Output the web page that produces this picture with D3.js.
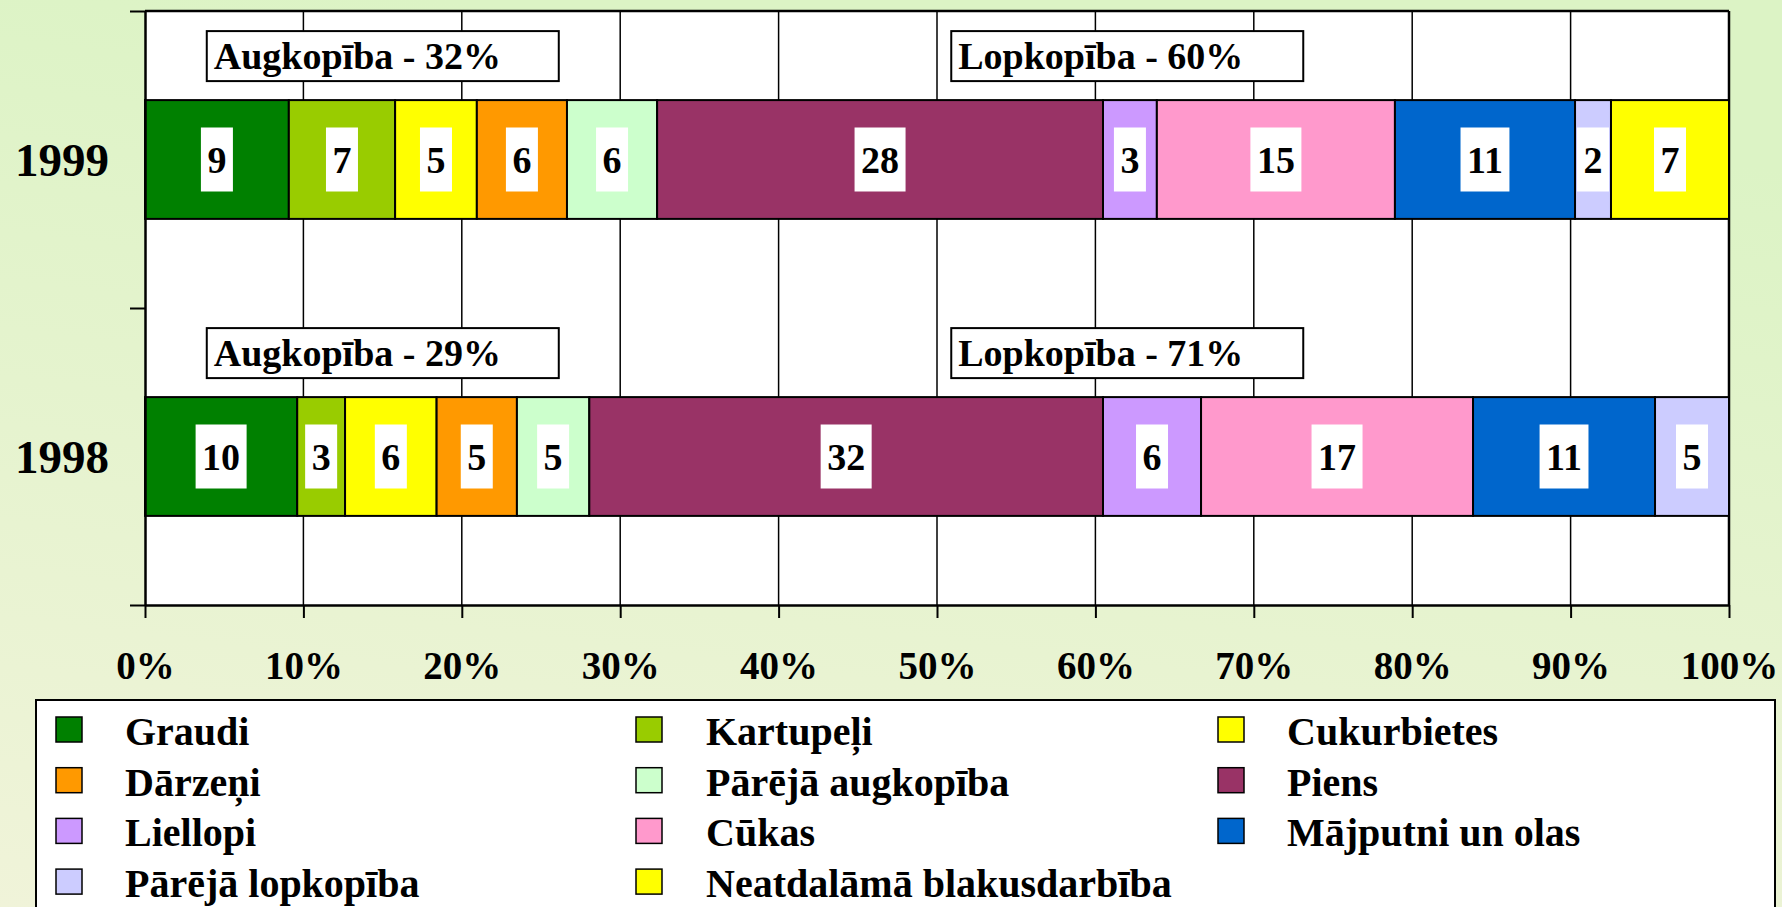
<!DOCTYPE html>
<html>
<head>
<meta charset="utf-8">
<script src="https://cdn.jsdelivr.net/npm/d3@7"></script>
<style>
  body { margin: 0; padding: 0; overflow: hidden; }
  text { font-family: "Times New Roman", "Liberation Serif", serif; font-weight: bold; fill: #000; }
</style>
</head>
<body>
<div id="chart"></div>
<script>
// data: share of output (%) by product group
const years = ["1999", "1998"];
const categories = ["Graudi", "Kartupeļi", "Cukurbietes", "Dārzeņi", "Pārējā augkopība",
  "Piens", "Liellopi", "Cūkas", "Mājputni un olas", "Pārējā lopkopība", "Neatdalāmā blakusdarbība"];
const colors = ["#008000", "#99cc00", "#ffff00", "#ff9900", "#ccffcc",
  "#993366", "#cc99ff", "#ff99cc", "#0066cc", "#ccccff", "#ffff00"];
const values1999 = [9.08, 6.71, 5.16, 5.69, 5.69, 28.15, 3.40, 15.03, 11.37, 2.27, 7.45];
const values1998 = [9.61, 3.02, 5.78, 5.07, 4.57, 32.43, 6.19, 17.17, 11.49, 4.67, 0];
const groupLabels1999 = ["Augkopība - 32%", "Lopkopība - 60%"];
const groupLabels1998 = ["Augkopība - 29%", "Lopkopība - 71%"];
const xTicks = [0, 10, 20, 30, 40, 50, 60, 70, 80, 90, 100];

const width = 1782, height = 907;
const plot = {left: 145, right: 1729, top: 11, bottom: 605};

const svg = d3.select("#chart").append("svg")
  .attr("width", width)
  .attr("height", height);

// background gradient
const grad = svg.append("defs").append("linearGradient")
  .attr("id", "bg")
  .attr("x1", 0).attr("y1", 1).attr("x2", 0.25).attr("y2", 0);
grad.append("stop").attr("offset", "0%").attr("stop-color", "#f0f3d9");
grad.append("stop").attr("offset", "100%").attr("stop-color", "#dcf3c5");
svg.append("rect").attr("width", width).attr("height", height).attr("fill", "url(#bg)");

const x = d3.scaleLinear().domain([0, 100]).range([plot.left, plot.right]);
const y = d3.scaleBand().domain(years).range([plot.top, plot.bottom])
  .paddingInner(0.6).paddingOuter(0.3);

// plot area
svg.append("rect")
  .attr("x", plot.left).attr("y", plot.top)
  .attr("width", plot.right - plot.left).attr("height", plot.bottom - plot.top)
  .attr("fill", "#fff");

// gridlines
svg.append("g").selectAll("line")
  .data(xTicks.slice(1))
  .enter().append("line")
    .attr("x1", d => x(d)).attr("x2", d => x(d))
    .attr("y1", plot.top).attr("y2", plot.bottom)
    .attr("stroke", "#000").attr("stroke-width", d => d == 100 ? 2.5 : 1.5);
svg.append("line")
  .attr("x1", plot.left).attr("x2", plot.right)
  .attr("y1", plot.top).attr("y2", plot.top)
  .attr("stroke", "#000").attr("stroke-width", 2.5);

// stacked bars
const rows = [
  {year: "1999", values: values1999, groups: groupLabels1999},
  {year: "1998", values: values1998, groups: groupLabels1998}
];
const fmt = d3.format(".0f");

rows.forEach(row => {
  let acc = 0;
  const segs = row.values.map((v, i) => {
    const s = {x0: acc, x1: acc + v, v: v, color: colors[i]};
    acc += v;
    return s;
  }).filter(s => s.v > 0);

  const g = svg.append("g");
  g.selectAll("rect.seg")
    .data(segs)
    .enter().append("rect")
      .attr("class", "seg")
      .attr("x", d => x(d.x0))
      .attr("y", y(row.year))
      .attr("width", d => x(d.x1) - x(d.x0))
      .attr("height", y.bandwidth())
      .attr("fill", d => d.color)
      .attr("stroke", "#000")
      .attr("stroke-width", 2);

  const cy = y(row.year) + y.bandwidth() / 2;
  const labs = g.selectAll("g.lab")
    .data(segs)
    .enter().append("g")
      .attr("class", "lab")
      .attr("transform", d => "translate(" + x((d.x0 + d.x1) / 2) + "," + cy + ")");
  labs.each(function(d) {
    const el = d3.select(this);
    const bg = el.append("rect").attr("fill", "#fff");
    const t = el.append("text")
      .attr("text-anchor", "middle")
      .attr("y", 13)
      .style("font-size", "38px")
      .text(fmt(d.v));
    const w = t.node().getComputedTextLength() + 13;
    bg.attr("x", -w / 2).attr("y", -32).attr("width", w).attr("height", 64);
  });

  // group annotation boxes
  const ann = [{text: row.groups[0], at: 3.9}, {text: row.groups[1], at: 50.9}];
  ann.forEach(a => {
    const bx = x(a.at), by = y(row.year) - 69;
    g.append("rect")
      .attr("x", bx).attr("y", by)
      .attr("width", 352).attr("height", 50)
      .attr("fill", "#fff").attr("stroke", "#000").attr("stroke-width", 2);
    g.append("text")
      .attr("x", bx + 7).attr("y", by + 38)
      .style("font-size", "38px")
      .text(a.text);
  });
});

// x axis
const xAxis = svg.append("g")
  .attr("transform", "translate(0," + plot.bottom + ")")
  .call(d3.axisBottom(x).tickValues(xTicks).tickFormat(d => d + "%").tickSize(13).tickPadding(33).tickSizeOuter(0));
xAxis.select(".domain").attr("stroke", "#000").attr("stroke-width", 2.5);
xAxis.selectAll(".tick line").attr("stroke", "#000").attr("stroke-width", 2);
xAxis.selectAll("text")
  .style("font-size", "39px")
  .style("font-family", "'Times New Roman', 'Liberation Serif', serif")
  .style("font-weight", "bold")
  .attr("fill", "#000");

// y axis
const yLin = d3.scaleLinear().domain([0, years.length]).range([plot.top, plot.bottom]);
const yAxis = svg.append("g")
  .attr("transform", "translate(" + plot.left + ",0)")
  .call(d3.axisLeft(yLin).ticks(years.length).tickFormat("").tickSize(15).tickSizeOuter(0));
yAxis.select(".domain").attr("stroke", "#000").attr("stroke-width", 2.5);
yAxis.selectAll(".tick line").attr("stroke", "#000").attr("stroke-width", 2);

svg.append("g").selectAll("text")
  .data(years)
  .enter().append("text")
    .attr("x", 109)
    .attr("y", d => y(d) + y.bandwidth() / 2 + 16)
    .attr("text-anchor", "end")
    .style("font-size", "47px")
    .text(d => d);

// legend
const legend = svg.append("g");
legend.append("rect")
  .attr("x", 36).attr("y", 700)
  .attr("width", 1739).attr("height", 260)
  .attr("fill", "#fff").attr("stroke", "#000").attr("stroke-width", 2);
const colX = [56, 636, 1218];
const textX = [125, 706, 1287];
categories.forEach((c, i) => {
  const col = i % 3, r = Math.floor(i / 3);
  const top = 717 + r * 50.7;
  legend.append("rect")
    .attr("x", colX[col]).attr("y", top)
    .attr("width", 26).attr("height", 25)
    .attr("fill", colors[i]).attr("stroke", "#000").attr("stroke-width", 1.5);
  legend.append("text")
    .attr("x", textX[col]).attr("y", top + 28)
    .style("font-size", "40px")
    .text(c);
});
</script>
</body>
</html>
